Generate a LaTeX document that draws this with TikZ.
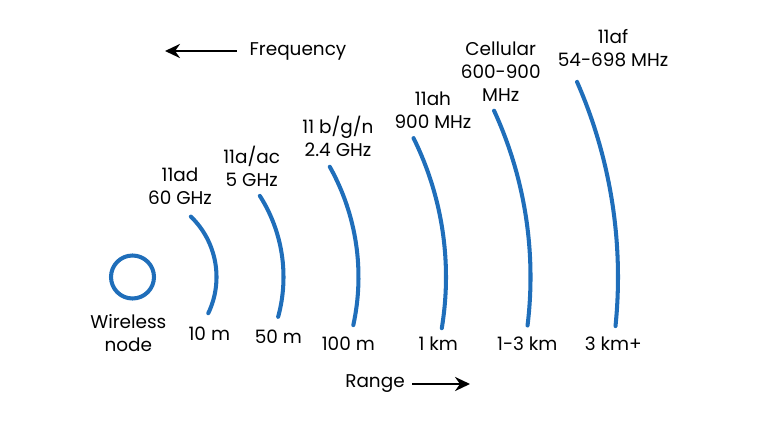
\documentclass[tikz,border=0pt]{standalone}
\usepackage{fontspec}
\setmainfont{Poppins}
\usepackage{tikz}
\usetikzlibrary{arrows.meta}
\definecolor{wavecol}{HTML}{1F6EBA}
\tikzset{
  wave/.style={draw=wavecol,line width=2.3pt,line cap=round},
  lbl/.style={align=center,font=\fontsize{10.5}{13}\selectfont,inner sep=1pt},
  bigarrow/.style={line width=1.5pt,-{Stealth[length=8.5pt,width=8pt]}}
}
\begin{document}
\begin{tikzpicture}[x=0.02cm,y=0.02cm]
\useasboundingbox (0,0) rectangle (770,420);
\node[wave,circle,minimum size=43*0.02cm,inner sep=0pt] (wnode) at (132.5,143) {};
\foreach \r/\a/\b in {84/-25.6/46, 151/-15.3/32.5, 226/-12.3/29.2, 313.5/-9.4/26.3, 398/-7/24.7, 485.5/-5.8/23.7}
  \draw[wave] (wnode.center) ++(\a:\r) arc[start angle=\a,end angle=\b,radius=\r*0.02cm];
\node[lbl] (ad) at (180,233.5) {11ad\\60 GHz};
\node[lbl] (ac) at (251.7,253.5) {11a/ac\\5 GHz};
\node[lbl] (bgn) at (338,283.5) {11 b/g/n\\2.4 GHz};
\node[lbl] (ah) at (433,310) {11ah\\900 MHz};
\node[lbl] (cell) at (500.7,348) {Cellular\\600-900\\MHz};
\node[lbl] (af) at (613,371.7) {11af\\54-698 MHz};
\node[lbl] (wlabel) at (128.3,86.7) {Wireless\\node};
\node[lbl] (r10) at (209.3,86.7) {10 m};
\node[lbl] (r50) at (278.3,83.3) {50 m};
\node[lbl] (r100) at (348.3,76) {100 m};
\node[lbl] (r1k) at (438.3,76.7) {1 km};
\node[lbl] (r3k) at (527.3,76.7) {1-3 km};
\node[lbl] (rmax) at (613.3,76.7) {3 km+};
\node[lbl] (freq) at (298,369) {Frequency};
\node[lbl] (range) at (375,36) {Range};
\coordinate (freqend) at (165,369);
\coordinate (rangeend) at (470,36);
\draw[bigarrow,shorten <=6pt] (freq.west) -- (freqend);
\draw[bigarrow,shorten <=3pt] (range.east) -- (rangeend);
\end{tikzpicture}
\end{document}
